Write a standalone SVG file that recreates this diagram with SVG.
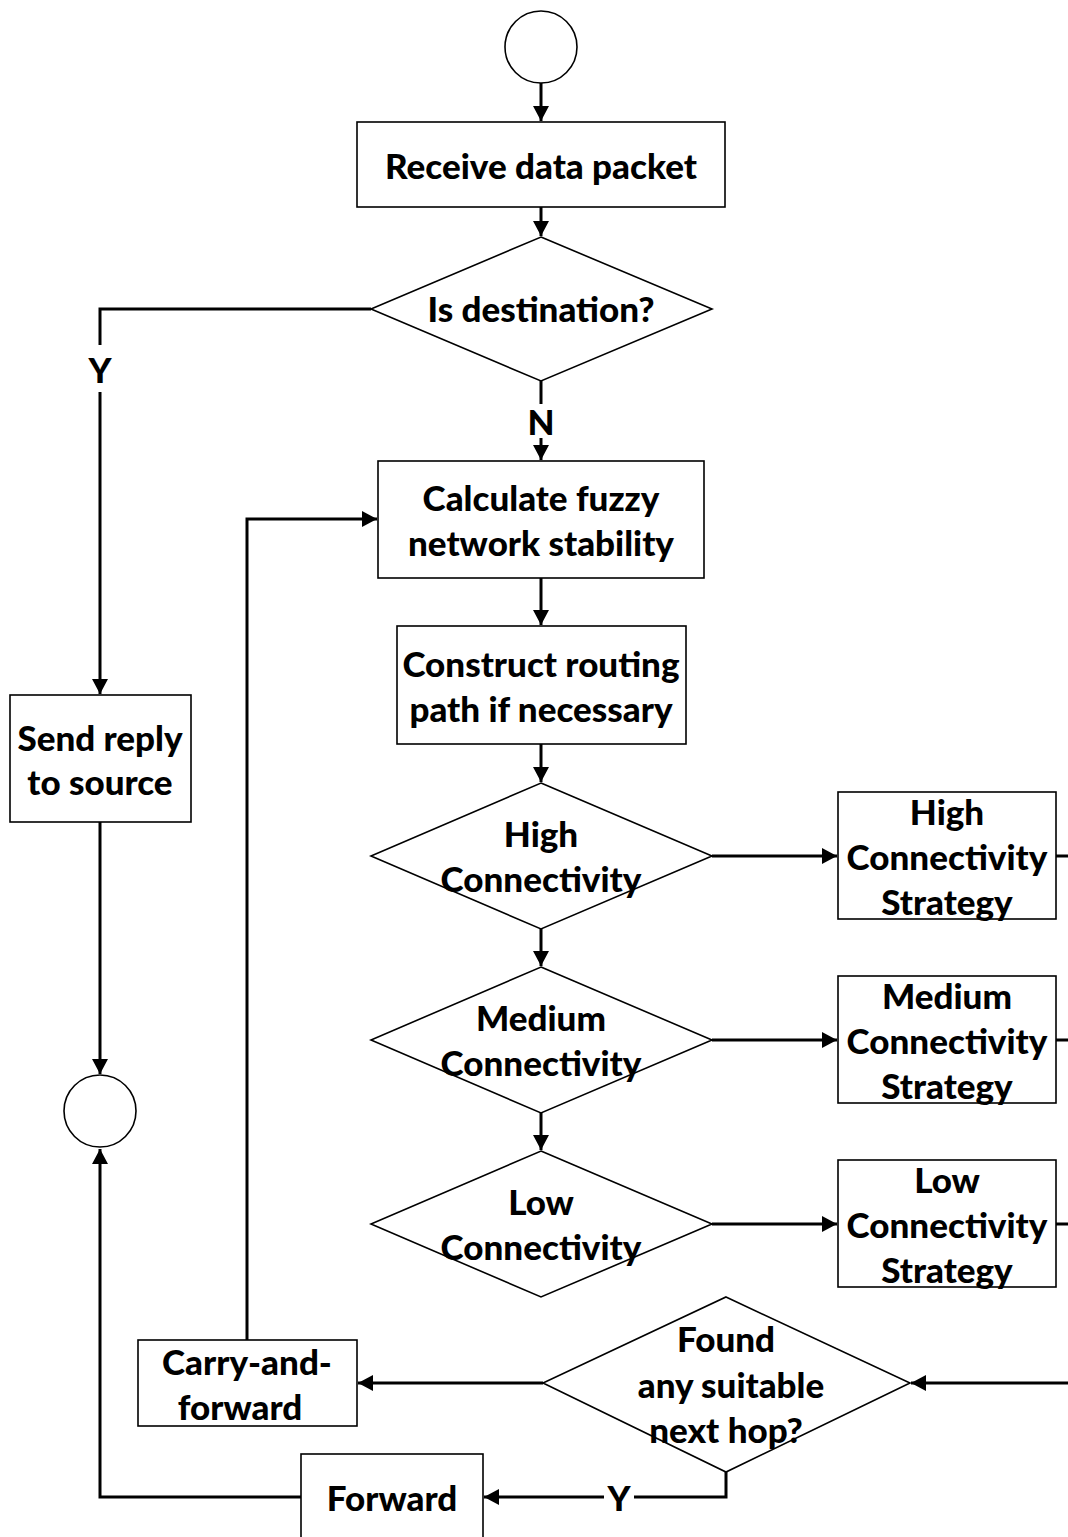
<svg xmlns="http://www.w3.org/2000/svg" width="1068" height="1537" viewBox="0 0 1068 1537">
<defs>
<marker id="ah" markerUnits="userSpaceOnUse" markerWidth="16" markerHeight="16" refX="15" refY="8" orient="auto">
<path d="M0,0 L15,8 L0,16 z" fill="#000"/>
</marker>
<style>
.n{fill:#fff;stroke:#000;stroke-width:1.6}
.t{font-family:Lato,"Open Sans","Liberation Sans",sans-serif;font-weight:900;font-size:35px;fill:#000;text-anchor:middle;dominant-baseline:central}
.c{fill:none;stroke:#000;stroke-width:3}
</style>
</defs>
<g id="connectors">
<path class="c" d="M541,83 V121" marker-end="url(#ah)"/>
<path class="c" d="M541,207 V236" marker-end="url(#ah)"/>
<path class="c" d="M371,309 H100 V345"/>
<path class="c" d="M100,392 V694" marker-end="url(#ah)"/>
<path class="c" d="M541,381 V404"/>
<path class="c" d="M541,438 V460" marker-end="url(#ah)"/>
<path class="c" d="M541,578 V625" marker-end="url(#ah)"/>
<path class="c" d="M541,744 V782" marker-end="url(#ah)"/>
<path class="c" d="M541,929 V966" marker-end="url(#ah)"/>
<path class="c" d="M541,1113 V1150" marker-end="url(#ah)"/>
<path class="c" d="M712,856 H837" marker-end="url(#ah)"/>
<path class="c" d="M712,1040 H837" marker-end="url(#ah)"/>
<path class="c" d="M712,1224 H837" marker-end="url(#ah)"/>
<path class="c" d="M1056,856 H1074 M1056,1040 H1074 M1056,1224 H1074 M1074,856 V1383"/>
<path class="c" d="M1074,1383 H911" marker-end="url(#ah)"/>
<path class="c" d="M543,1383 H358" marker-end="url(#ah)"/>
<path class="c" d="M247,1340 V519 H377" marker-end="url(#ah)"/>
<path class="c" d="M726,1472 V1497 H634"/>
<path class="c" d="M604,1497 H484" marker-end="url(#ah)"/>
<path class="c" d="M301,1497 H100 V1149" marker-end="url(#ah)"/>
<path class="c" d="M100,822 V1074" marker-end="url(#ah)"/>
<text class="t" x="100" y="369">Y</text>
<text class="t" x="541" y="421">N</text>
<text class="t" x="619" y="1497">Y</text>
</g>
<g id="start"><circle class="n" cx="541" cy="47" r="36"/></g>
<g id="receive"><rect class="n" x="357" y="122" width="368" height="85"/><text class="t" x="541" y="165">Receive data packet</text></g>
<g id="isdest"><polygon class="n" points="541,237 712,309 541,381 371,309"/><text class="t" x="541" y="308">Is destination?</text></g>
<g id="calc"><rect class="n" x="378" y="461" width="326" height="117"/><text class="t" x="541" y="497">Calculate fuzzy</text><text class="t" x="541" y="542">network stability</text></g>
<g id="construct"><rect class="n" x="397" y="626" width="289" height="118"/><text class="t" x="541" y="663">Construct routing</text><text class="t" x="541" y="708">path if necessary</text></g>
<g id="high"><polygon class="n" points="541,783 712,856 541,929 371,856"/><text class="t" x="541" y="833">High</text><text class="t" x="541" y="878">Connectivity</text></g>
<g id="medium"><polygon class="n" points="541,967 712,1040 541,1113 371,1040"/><text class="t" x="541" y="1017">Medium</text><text class="t" x="541" y="1062">Connectivity</text></g>
<g id="low"><polygon class="n" points="541,1151 712,1224 541,1297 371,1224"/><text class="t" x="541" y="1201">Low</text><text class="t" x="541" y="1246">Connectivity</text></g>
<g id="highS"><rect class="n" x="838" y="792" width="218" height="127"/><text class="t" x="947" y="811">High</text><text class="t" x="947" y="856">Connectivity</text><text class="t" x="947" y="901">Strategy</text></g>
<g id="medS"><rect class="n" x="838" y="976" width="218" height="127"/><text class="t" x="947" y="995">Medium</text><text class="t" x="947" y="1040">Connectivity</text><text class="t" x="947" y="1085">Strategy</text></g>
<g id="lowS"><rect class="n" x="838" y="1160" width="218" height="127"/><text class="t" x="947" y="1179">Low</text><text class="t" x="947" y="1224">Connectivity</text><text class="t" x="947" y="1269">Strategy</text></g>
<g id="found"><polygon class="n" points="726,1297 910,1383 726,1472 543,1383"/><text class="t" x="726" y="1338">Found</text><text class="t" x="731" y="1384">any suitable</text><text class="t" x="726" y="1429">next hop?</text></g>
<g id="send"><rect class="n" x="10" y="695" width="181" height="127"/><text class="t" x="100" y="737">Send reply</text><text class="t" x="100" y="781">to source</text></g>
<g id="end"><circle class="n" cx="100" cy="1111" r="36"/></g>
<g id="carry"><rect class="n" x="138" y="1340" width="219" height="86"/><text class="t" x="247" y="1361">Carry-and-</text><text class="t" x="240" y="1406">forward</text></g>
<g id="forward"><rect class="n" x="301" y="1454" width="182" height="90"/><text class="t" x="392" y="1497">Forward</text></g>
</svg>
